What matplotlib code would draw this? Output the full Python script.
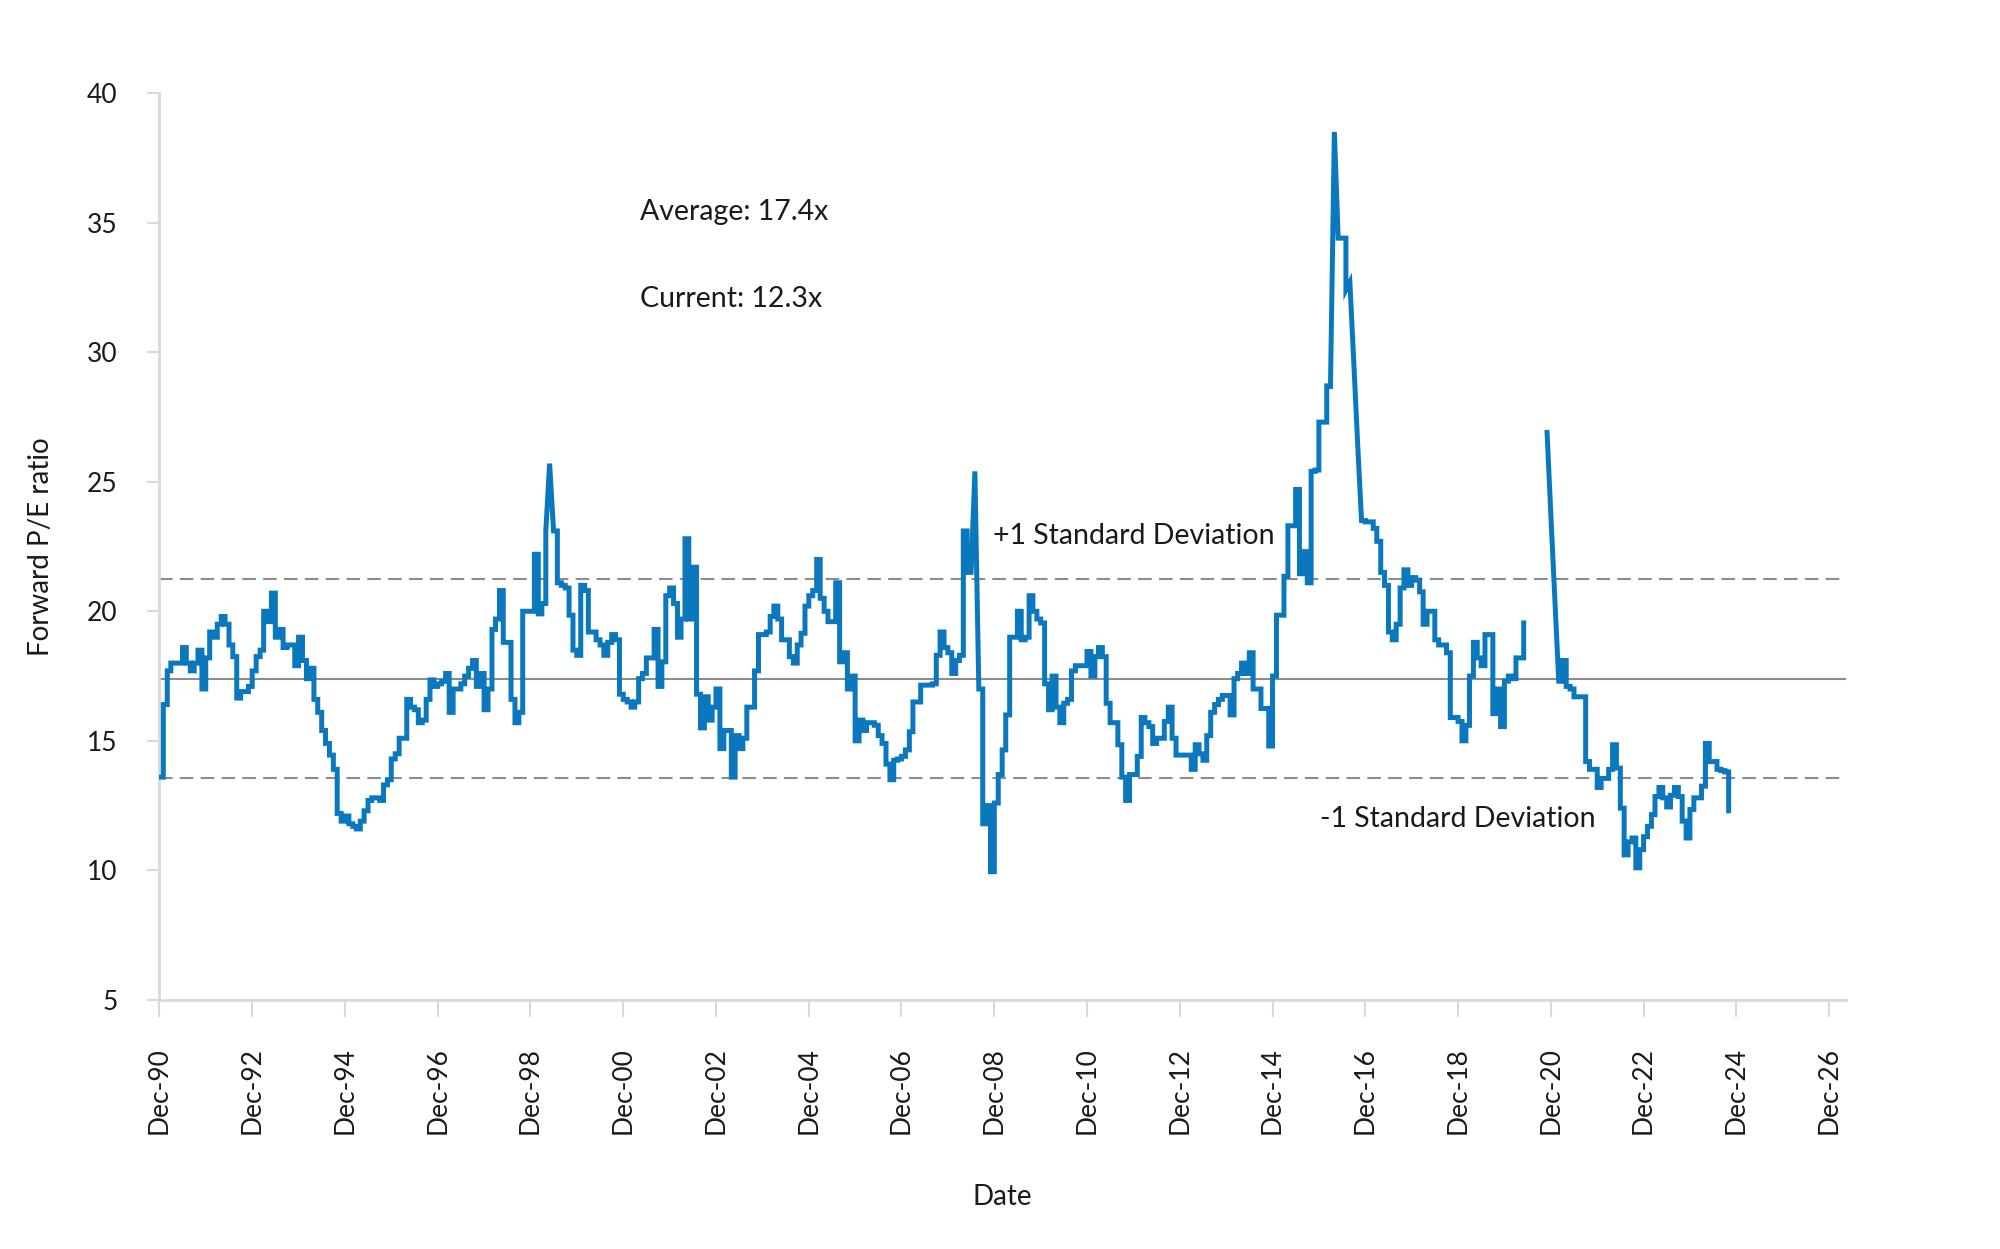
import numpy as np
import pandas as pd
import matplotlib
matplotlib.use("Agg")
import matplotlib.pyplot as plt


# monthly forward P/E, starting Dec-90 (NaN = no data)
pe_values = [
  # 1990-1995
  13.6, 16.4, 17.7, 18.0, 18.0, 18.0, 18.6, 18.0, 17.7, 18.0, 18.5, 17.0,
  18.2, 19.2, 19.0, 19.5, 19.8, 19.5, 18.7, 18.25, 16.65, 16.9, 16.9, 17.1,
  17.7, 18.25, 18.5, 20.0, 19.6, 20.7, 19.0, 19.3, 18.6, 18.7, 18.7, 17.9,
  19.0, 18.1, 17.4, 17.8, 16.6, 16.1, 15.4, 14.9, 14.45, 13.9, 12.2, 11.9,
  12.1, 11.8, 11.7, 11.6, 11.9, 12.3, 12.7,
  # 1995-1999
  12.8, 12.8, 12.7, 13.3, 13.5, 14.3, 14.5, 15.1, 15.1, 16.6, 16.3, 16.2,
  15.7, 15.8, 16.6, 17.35, 17.1, 17.2, 17.3, 17.6, 16.1, 17.0, 17.0, 17.2,
  17.5, 17.8, 18.1, 17.1, 17.6, 16.2, 17.0, 19.3, 19.7, 20.8, 18.8, 18.8,
  16.6, 15.7, 16.1, 20.0, 20.0, 20.0, 22.2, 19.9, 20.3, 23.1, 25.7, 23.1,
  21.1, 21.0, 20.9, 19.85, 18.5,
  # 1999-2004
  18.3, 21.0, 20.8, 19.2, 19.2, 18.9, 18.7, 18.3, 18.8, 19.1, 18.9, 16.8,
  16.6, 16.5, 16.3, 16.5, 17.4, 17.6, 18.2, 18.2, 19.3, 17.1, 18.05, 20.6,
  20.9, 20.3, 19.0, 19.7, 22.8, 19.7, 21.7, 16.8, 15.5, 16.7, 15.8, 16.3,
  17.0, 14.7, 15.4, 15.4, 13.6, 15.2, 14.7, 15.1, 16.3, 16.3, 17.7, 19.1,
  19.1, 19.2, 19.8, 20.2,
  # 2004-2009
  19.7, 18.9, 18.9, 18.25, 18.0, 18.7, 19.15, 20.2, 20.6, 20.8, 22.0, 20.5,
  20.0, 19.6, 19.6, 21.1, 18.05, 18.4, 17.0, 17.5, 15.0, 15.8, 15.4, 15.7,
  15.7, 15.6, 15.2, 14.9, 14.1, 13.5, 14.25, 14.3, 14.4, 14.65, 15.35, 16.5,
  16.5, 17.15, 17.15, 17.15, 17.2, 18.3, 19.2, 18.6, 18.4, 17.6, 18.1, 18.3,
  23.1, 21.5, 21.5, 25.4, 17.0, 11.8, 12.5, 9.95, 12.6, 13.7,
  # 2009-2013
  14.65, 16.0, 19.0, 19.0, 20.0, 18.9, 19.0, 20.6, 20.0, 19.7, 19.55, 17.2,
  16.2, 17.5, 16.3, 15.7, 16.45, 16.6, 17.7, 17.9, 17.9, 17.9, 18.45, 17.5,
  18.25, 18.6, 18.25, 16.45, 15.7, 15.7, 14.85, 13.6, 12.7, 13.7, 13.7, 14.4,
  15.9, 15.7, 15.55, 14.9, 15.1, 15.1, 15.75, 16.3, 15.1, 14.45, 14.45, 14.45,
  14.45, 13.9, 14.85, 14.5, 14.25, 15.2,
  # 2013-2017
  16.1, 16.4, 16.6, 16.75, 16.75, 16.0, 17.4, 17.6, 18.0, 17.6, 18.4, 17.0,
  17.0, 16.25, 16.25, 14.8, 17.5, 19.85, 19.85, 21.35, 23.3, 23.3, 24.7, 21.45,
  22.3, 21.1, 25.4, 25.45, 27.3, 27.3, 28.7, 28.6, 38.5, 34.4, 34.4, 32.4,
  32.7, 29.6, 26.5, 23.5, 23.45, 23.45, 23.2, 22.7, 21.5, 21.0, 19.2, 18.9,
  19.5, 20.9, 21.6, 21.0, 21.3, 21.2,
  # 2017-2021
  20.75, 19.5, 20.0, 20.0, 18.9, 18.7, 18.7, 18.4, 15.9, 15.9, 15.75, 15.0,
  15.6, 17.5, 18.8, 18.2, 17.9, 19.1, 19.1, 16.05, 17.0, 15.55, 17.3, 17.5,
  17.4, 18.2, 18.2, 19.55, np.nan, np.nan, np.nan, np.nan, np.nan, 26.9, 23.7, 20.5,
  17.3, 18.1, 17.1, 17.0, 16.7, 16.7, 16.7, 14.2, 13.9, 13.9, 13.2, 13.55,
  13.55, 13.9, 14.85, 13.95, 12.4, 10.6,
  # 2022-2024
  11.1, 11.25, 10.1, 10.8, 11.3, 11.7, 12.15, 12.85, 13.2, 12.8, 12.45, 12.9,
  13.2, 12.85, 11.9, 11.25, 12.35, 12.8, 12.8, 13.25, 14.9, 14.2, 14.2, 13.9,
  13.85, 13.8, 12.3,
]
dates = pd.date_range("1990-12-01", periods=len(pe_values), freq="MS")

# months where the series slides to the next value instead of stepping
ramp_months = [100, 101, 210, 211, 303, 304, 307, 308, 309, 310, 359, 360, 361]

average = 17.4
upper_sd = 21.25
lower_sd = 13.55

tick_years = list(range(1990, 2027, 2))
tick_dates = [pd.Timestamp(f"{y}-12-01") for y in tick_years]
tick_labels = [f"Dec-{y % 100:02d}" for y in tick_years]

blue = "#0B78BE"
grey = "#8C8C8C"
axis_grey = "#D9D9D9"


def step_path(d, v, ramps):
  # hold each month's value until the next month, except on ramp months
  xs, ys = [], []
  n = len(v)
  for i in range(n):
    xs.append(d[i])
    ys.append(v[i])
    if i < n - 1 and i not in ramps and not np.isnan(v[i + 1]):
      xs.append(d[i + 1])
      ys.append(v[i])
  return xs, ys


plt.rcParams["font.family"] = ["Lato", "DejaVu Sans"]

fig = plt.figure(figsize=(20, 12.49), dpi=100)
ax = fig.add_axes([0.0797, 0.1994, 0.8431, 0.7261])

ax.axhline(average, color=grey, lw=1.5, zorder=1)
ax.axhline(upper_sd, color=grey, lw=1.5, dashes=(6.5, 3.5), zorder=1)
ax.axhline(lower_sd, color=grey, lw=1.5, dashes=(6.5, 3.5), zorder=1)

xs, ys = step_path(dates, pe_values, ramp_months)
ax.plot(xs, ys, color=blue, lw=3.6, solid_joinstyle="miter", zorder=3)

ax.set_xlim(pd.Timestamp("1990-12-01"), pd.Timestamp("2027-04-10"))
ax.set_ylim(5, 40)
ax.set_yticks(range(5, 41, 5))
ax.set_xticks(tick_dates)
ax.set_xticklabels(tick_labels, rotation=90, fontsize=19, color="#1a1a1a")
ax.tick_params(axis="y", labelsize=19, colors="#1a1a1a", length=9, width=1.5,
               color=axis_grey, pad=21)
ax.tick_params(axis="x", length=12, width=1.5, color=axis_grey, pad=22)

for side in ["top", "right"]:
  ax.spines[side].set_visible(False)
for side in ["left", "bottom"]:
  ax.spines[side].set_color(axis_grey)
  ax.spines[side].set_linewidth(2)

ax.set_xlabel("Date", fontsize=20, color="#1a1a1a", labelpad=36)
ax.set_ylabel("Forward P/E ratio", fontsize=20, color="#1a1a1a", labelpad=24)

txt = dict(fontsize=20.5, color="#1a1a1a", va="center", ha="left")
ax.text(pd.Timestamp("2001-04-15"), 35.4, "Average: 17.4x", **txt)
ax.text(pd.Timestamp("2001-04-15"), 32.05, "Current: 12.3x", **txt)
ax.text(pd.Timestamp("2008-11-20"), 22.9, "+1 Standard Deviation", **txt)
ax.text(pd.Timestamp("2015-12-10"), 12.0, "-1 Standard Deviation", **txt)

fig.savefig("out.png", dpi=100)
